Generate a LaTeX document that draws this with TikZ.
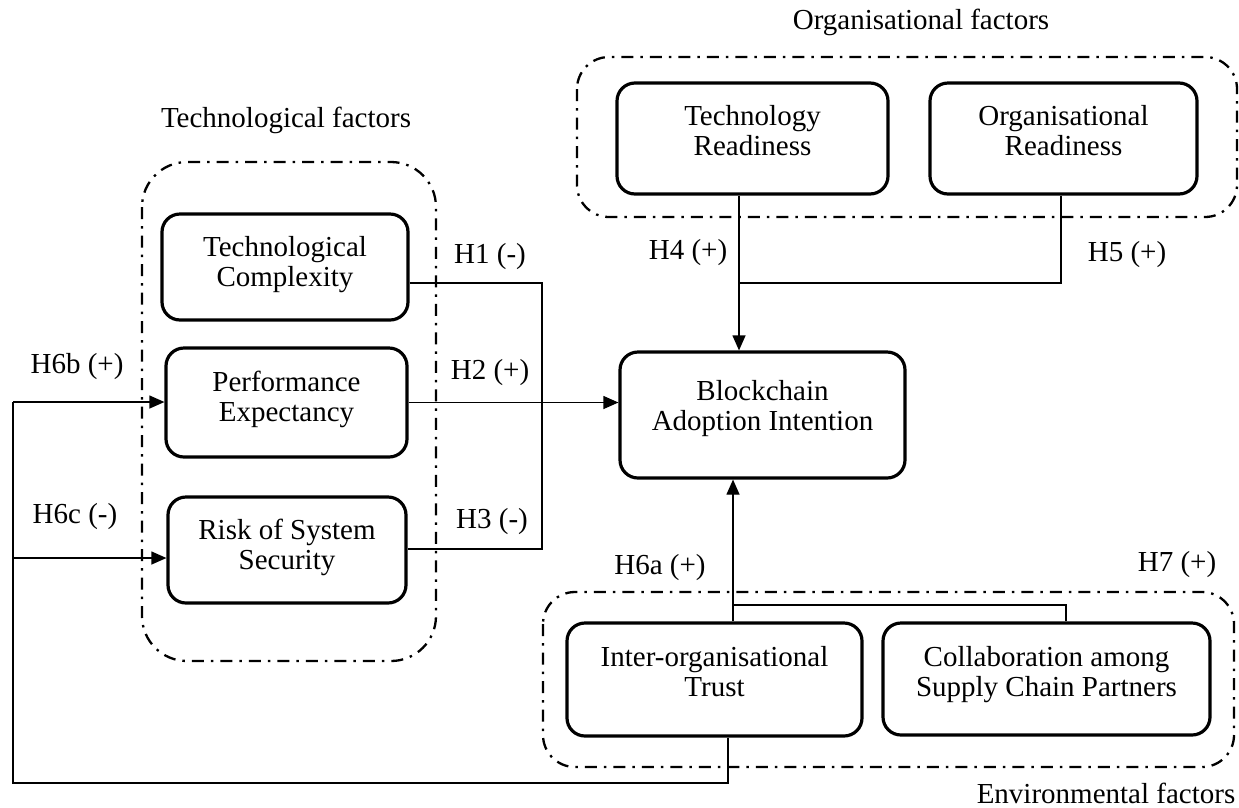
\documentclass[tikz,border=0pt]{standalone}
\usepackage{fontspec}
\setmainfont{Liberation Serif}
\usetikzlibrary{arrows.meta}
\newcommand{\boxtext}[2][4pt]{\raisebox{#1}[\height][\depth]{\begin{tabular}{@{}c@{}}#2\end{tabular}}}
\begin{document}
\begin{tikzpicture}[x=1pt,y=-1pt,
  every node/.style={font=\fontsize{29}{30}\selectfont},
  factor/.style={draw,line width=3.2pt,rounded corners=18pt,align=center,inner sep=0pt},
  group/.style={draw,line width=2.3pt,dash pattern=on 12pt off 7pt on 2.5pt off 7pt},
  link/.style={line width=1.2pt},
  arr/.style={link,-{Triangle[length=15pt,width=13pt]}},
  lbl/.style={inner sep=0pt}]
\useasboundingbox (0,0) rectangle (1239,807);
% group frames
\draw[group,rounded corners=45pt] (142,162) rectangle (436,661);
\draw[group,rounded corners=32pt] (577,57) rectangle (1237,217);
\draw[group,rounded corners=32pt] (543,592) rectangle (1234,767);
% group labels
\node[lbl] (ltech) at (286,120) {Technological factors};
\node[lbl] (lorg) at (921,22) {Organisational factors};
\node[lbl] (lenv) at (1106,793) {Environmental factors};
% factor boxes
\node[factor,minimum width=246pt,minimum height=106pt] (tc) at (285,267) {\boxtext[2pt]{Technological\\Complexity}};
\node[factor,minimum width=241pt,minimum height=109pt] (pe) at (286.5,402.5) {\boxtext[2pt]{Performance\\Expectancy}};
\node[factor,minimum width=238pt,minimum height=106pt] (rss) at (287,550) {\boxtext[2pt]{Risk of System\\Security}};
\node[factor,minimum width=285pt,minimum height=126pt] (bai) at (762.5,415) {\boxtext[6pt]{Blockchain\\Adoption Intention}};
\node[factor,minimum width=271pt,minimum height=111pt] (tr) at (752.5,138.5) {\boxtext[4pt]{Technology\\Readiness}};
\node[factor,minimum width=267pt,minimum height=111pt] (or) at (1063.5,138.5) {\boxtext[4pt]{Organisational\\Readiness}};
\node[factor,minimum width=295pt,minimum height=113pt] (iot) at (714.5,679.5) {\boxtext[4pt]{Inter-organisational\\Trust}};
\node[factor,minimum width=327pt,minimum height=112pt] (col) at (1046.5,679) {\boxtext[4pt]{Collaboration among\\Supply Chain Partners}};
% junction coordinates
\coordinate (j1) at (542,283);
\coordinate (j3) at (542,549);
\coordinate (j4) at (739,283);
\coordinate (j5) at (1061,283);
\coordinate (j6) at (733,605);
\coordinate (j7) at (1066,605);
\coordinate (j8) at (728,783);
\coordinate (j9) at (13,783);
\coordinate (j10) at (13,402);
\coordinate (j11) at (13,558);
% H1-H3
\draw[link] (tc.east |- j1) -- (j1) -- (j3) -- (rss.east |- j3);
\draw[arr] (pe.east) -- (pe.east -| bai.west);
% H4, H5
\draw[arr] (tr.south -| j4) -- (j4 |- bai.north);
\draw[link] (or.south -| j5) -- (j5) -- (j4);
% H6a, H7
\draw[arr] (iot.north -| j6) -- (j6 |- bai.south);
\draw[link] (col.north -| j7) -- (j7) -- (j6);
% H6b, H6c
\draw[link] (iot.south -| j8) -- (j8) -- (j9) -- (j10);
\draw[arr] (j10) -- (j10 -| pe.west);
\draw[arr] (j11) -- (j11 -| rss.west);
% hypothesis labels
\node[lbl] (h1) at (490,257) {H1 (-)};
\node[lbl] (h2) at (490,373) {H2 (+)};
\node[lbl] (h3) at (492,522) {H3 (-)};
\node[lbl] (h4) at (688,253) {H4 (+)};
\node[lbl] (h5) at (1127,255) {H5 (+)};
\node[lbl] (h6a) at (660,568) {H6a (+)};
\node[lbl] (h6b) at (77,367) {H6b (+)};
\node[lbl] (h6c) at (75,517) {H6c (-)};
\node[lbl] (h7) at (1177,565) {H7 (+)};
\end{tikzpicture}
\end{document}
